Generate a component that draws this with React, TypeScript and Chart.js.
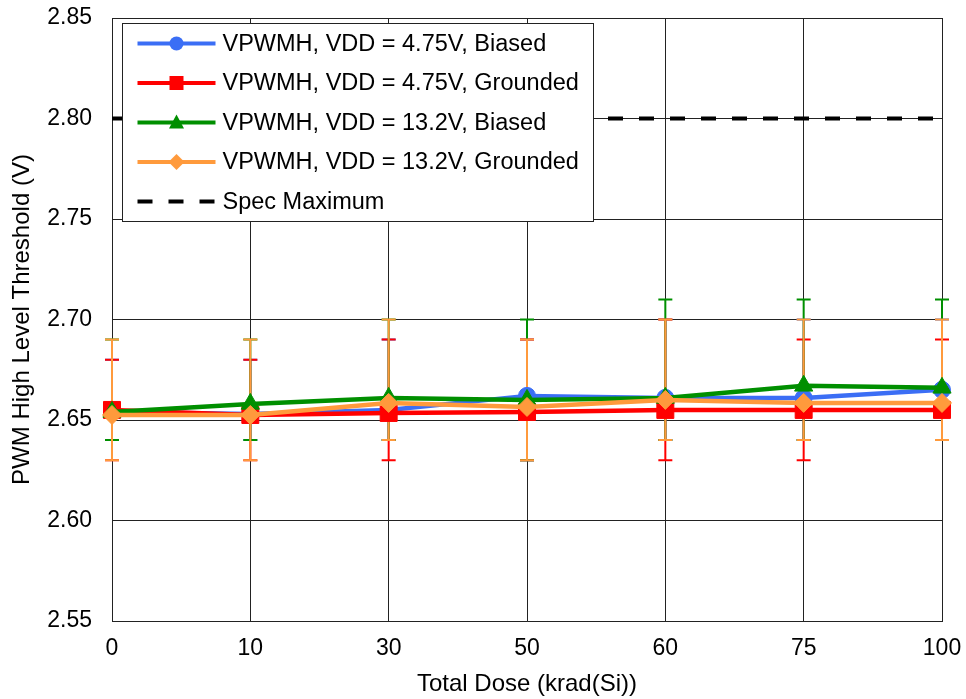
import React, { useEffect, useRef } from "react";
import { Chart, registerables } from "chart.js";

Chart.register(...registerables);

const categories = ["0", "10", "30", "50", "60", "75", "100"];
const yTicks = [2.55, 2.6, 2.65, 2.7, 2.75, 2.8, 2.85];

const blueVals = [2.654, 2.653, 2.655, 2.662, 2.661, 2.661, 2.665];
const redVals = [2.655, 2.6525, 2.6535, 2.654, 2.655, 2.655, 2.655];
const greenVals = [2.654, 2.658, 2.661, 2.66, 2.661, 2.667, 2.666];
const orangeVals = [2.6525, 2.6525, 2.6585, 2.6565, 2.66, 2.6585, 2.6585];
const specVals = [2.8, 2.8, 2.8, 2.8, 2.8, 2.8, 2.8];

const blueHi = [2.68, 2.68, 2.69, 2.69, 2.7, 2.7, 2.7];
const blueLo = [2.64, 2.64, 2.64, 2.63, 2.64, 2.64, 2.64];
const redHi = [2.68, 2.68, 2.69, 2.69, 2.7, 2.69, 2.69];
const redLo = [2.63, 2.63, 2.63, 2.63, 2.63, 2.63, 2.64];
const greenHi = [2.69, 2.69, 2.7, 2.7, 2.71, 2.71, 2.71];
const greenLo = [2.64, 2.64, 2.64, 2.63, 2.64, 2.64, 2.64];
const orangeHi = [2.69, 2.69, 2.7, 2.69, 2.7, 2.7, 2.7];
const orangeLo = [2.63, 2.63, 2.64, 2.63, 2.64, 2.64, 2.64];

const seriesNames = [
  "VPWMH, VDD = 4.75V, Biased",
  "VPWMH, VDD = 4.75V, Grounded",
  "VPWMH, VDD = 13.2V, Biased",
  "VPWMH, VDD = 13.2V, Grounded",
  "Spec Maximum",
];

const BLUE = "#3b6ef5";
const RED = "#ff0000";
const GREEN = "#008f00";
const ORANGE = "#ff9a3c";
const FONT = "'Liberation Sans', Arial, sans-serif";

const errorBars = [
  { color: BLUE, hi: blueHi, lo: blueLo },
  { color: RED, hi: redHi, lo: redLo },
  { color: GREEN, hi: greenHi, lo: greenLo },
  { color: ORANGE, hi: orangeHi, lo: orangeLo },
];

const errorBarPlugin = {
  id: "errorBars",
  beforeDatasetsDraw(chart: any) {
    const { ctx, scales } = chart;
    const xs = scales.x;
    const ys = scales.y;
    ctx.save();
    errorBars.forEach((eb) => {
      ctx.strokeStyle = eb.color;
      ctx.lineWidth = 2;
      for (let i = 0; i < categories.length; i++) {
        const x = xs.getPixelForValue(i);
        const yH = ys.getPixelForValue(eb.hi[i]);
        const yL = ys.getPixelForValue(eb.lo[i]);
        ctx.beginPath();
        ctx.moveTo(x, yH);
        ctx.lineTo(x, yL);
        ctx.moveTo(x - 7, yH);
        ctx.lineTo(x + 7, yH);
        ctx.moveTo(x - 7, yL);
        ctx.lineTo(x + 7, yL);
        ctx.stroke();
      }
    });
    ctx.restore();
  },
};

const legendItems = [
  { color: BLUE, marker: "circle", dash: [] as number[] },
  { color: RED, marker: "square", dash: [] as number[] },
  { color: GREEN, marker: "triangle", dash: [] as number[] },
  { color: ORANGE, marker: "diamond", dash: [] as number[] },
  { color: "#000", marker: "none", dash: [15, 16] },
];

const legendPlugin = {
  id: "boxLegend",
  afterDraw(chart: any) {
    const { ctx, chartArea } = chart;
    const bx = chartArea.left + 10.5;
    const by = chartArea.top + 5.5;
    const bw = 471;
    const bh = 198;
    ctx.save();
    ctx.fillStyle = "#fff";
    ctx.fillRect(bx, by, bw, bh);
    ctx.strokeStyle = "#222";
    ctx.lineWidth = 1;
    ctx.strokeRect(bx, by, bw, bh);
    legendItems.forEach((it, i) => {
      const cy = by + 20 + i * 39.5;
      const x0 = bx + 15;
      const x1 = bx + 93;
      const mx = (x0 + x1) / 2;
      ctx.strokeStyle = it.color;
      ctx.lineWidth = 4;
      ctx.setLineDash(it.dash);
      ctx.beginPath();
      ctx.moveTo(x0, cy);
      ctx.lineTo(x1, cy);
      ctx.stroke();
      ctx.setLineDash([]);
      ctx.fillStyle = it.color;
      ctx.beginPath();
      if (it.marker === "circle") {
        ctx.arc(mx, cy, 7, 0, Math.PI * 2);
      } else if (it.marker === "square") {
        ctx.rect(mx - 7, cy - 7, 14, 14);
      } else if (it.marker === "triangle") {
        ctx.moveTo(mx, cy - 8);
        ctx.lineTo(mx + 7.5, cy + 6);
        ctx.lineTo(mx - 7.5, cy + 6);
        ctx.closePath();
      } else if (it.marker === "diamond") {
        ctx.moveTo(mx, cy - 8);
        ctx.lineTo(mx + 8, cy);
        ctx.lineTo(mx, cy + 8);
        ctx.lineTo(mx - 8, cy);
        ctx.closePath();
      }
      if (it.marker !== "none") ctx.fill();
      ctx.fillStyle = "#000";
      ctx.font = `23.5px ${FONT}`;
      ctx.textBaseline = "middle";
      ctx.textAlign = "left";
      ctx.fillText(seriesNames[i], bx + 100, cy + 1);
    });
    ctx.restore();
  },
};

export default function App() {
  const ref = useRef<HTMLCanvasElement | null>(null);
  useEffect(() => {
    if (!ref.current) return;
    const mk = (label: string, data: number[], color: string, style: string, r: number, order: number) => ({
      label,
      data,
      borderColor: color,
      backgroundColor: color,
      borderWidth: 4.5,
      pointStyle: style,
      pointRadius: r,
      pointBorderWidth: 1,
      pointBackgroundColor: color,
      pointBorderColor: color,
      tension: 0,
      order,
    });
    const chart = new Chart(ref.current, {
      type: "line",
      data: {
        labels: categories,
        datasets: [
          mk(seriesNames[0], blueVals, BLUE, "circle", 8.5, 4),
          mk(seriesNames[1], redVals, RED, "rect", 12, 3),
          mk(seriesNames[2], greenVals, GREEN, "triangle", 10.5, 2),
          mk(seriesNames[3], orangeVals, ORANGE, "rectRot", 9.5, 1),
          {
            label: seriesNames[4],
            data: specVals,
            borderColor: "#000",
            backgroundColor: "#000",
            borderWidth: 4,
            borderDash: [15, 16],
            pointRadius: 0,
            order: 5,
          },
        ],
      },
      options: {
        animation: false,
        responsive: true,
        maintainAspectRatio: false,
        layout: { padding: { top: 18, right: 24, left: 0, bottom: 0 } },
        plugins: { legend: { display: false }, tooltip: { enabled: false } },
        scales: {
          x: {
            type: "category",
            offset: false,
            grid: { color: "#222", lineWidth: 1, drawTicks: false },
            border: { display: true, color: "#222", width: 1 },
            ticks: { color: "#000", font: { size: 23, family: FONT }, padding: 14, maxRotation: 0, autoSkip: false },
            title: {
              display: true,
              text: "Total Dose (krad(Si))",
              color: "#000",
              font: { size: 24, family: FONT },
              padding: { top: 0, bottom: 0 },
            },
            afterFit: (s: any) => {
              s.height = 78;
              s.paddingLeft = 0;
              s.paddingRight = 0;
            },
          },
          y: {
            min: yTicks[0],
            max: yTicks[yTicks.length - 1],
            grid: { color: "#222", lineWidth: 1, drawTicks: false },
            border: { display: true, color: "#222", width: 1 },
            afterBuildTicks: (s: any) => {
              s.ticks = yTicks.map((v) => ({ value: v }));
            },
            ticks: {
              color: "#000",
              font: { size: 23, family: FONT },
              padding: 20,
              callback: (v: any) => Number(v).toFixed(2),
            },
            title: {
              display: true,
              text: "PWM High Level Threshold (V)",
              color: "#000",
              font: { size: 24, family: FONT },
              padding: { top: 8, bottom: 0 },
            },
            afterFit: (s: any) => {
              s.width = 112;
              s.paddingTop = 0;
              s.paddingBottom = 0;
            },
          },
        },
      },
      plugins: [errorBarPlugin, legendPlugin],
    } as any);
    return () => chart.destroy();
  }, []);
  return (
    <div style={{ position: "fixed", left: 0, top: 0, width: 966, height: 699, background: "#fff" }}>
      <canvas ref={ref} />
    </div>
  );
}
